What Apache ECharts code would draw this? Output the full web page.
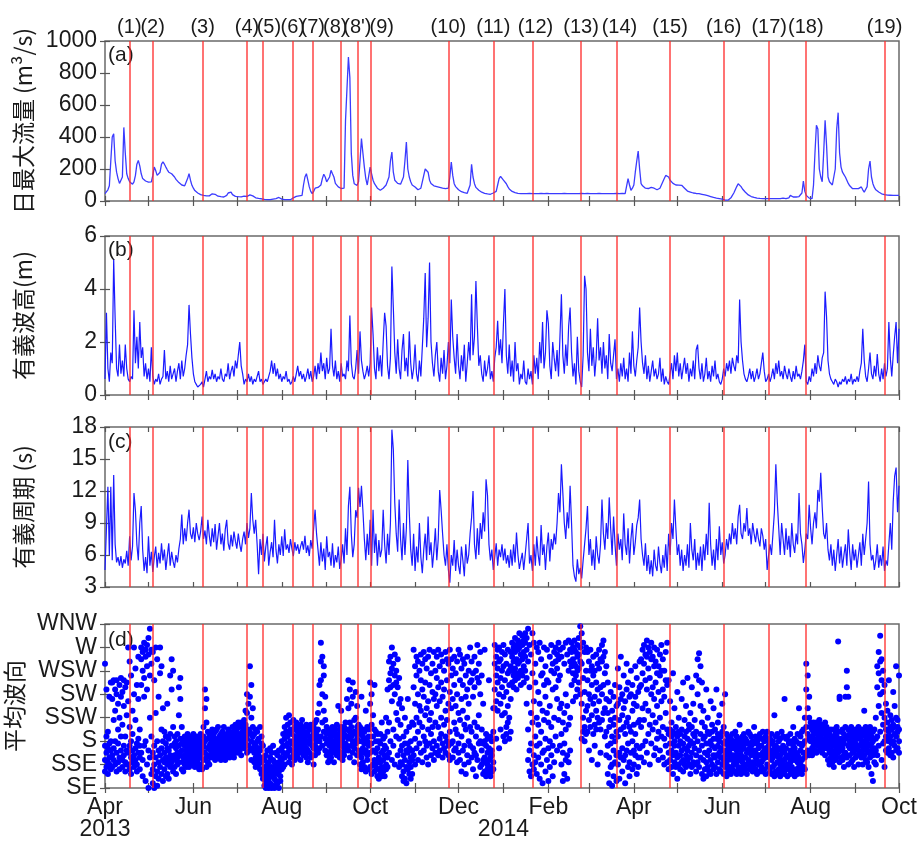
<!DOCTYPE html>
<html>
<head>
<meta charset="utf-8">
<script src="https://cdn.jsdelivr.net/npm/echarts@6/dist/echarts.min.js"></script>
<style>
html,body{margin:0;padding:0;background:#fff}
#main{width:924px;height:841px}
</style>
</head>
<body>
<div id="main"></div>
<script>
// 日数は 2013/4/1 を 0 とする
var monthTicks = [0,30,61,91,122,153,183,214,244,275,306,334,365,395,426,456,487,518,548];
var labelDays = [0,61,122,183,244,306,365,426,487,548];
var labelNames = ['Apr','Jun','Aug','Oct','Dec','Feb','Apr','Jun','Aug','Oct'];
var yearDays = [0,275];
var yearNames = ['2013','2014'];

// イベント (赤線)
var eventDays = [16.8,32.9,67.4,98,109,129.6,143.4,162.4,174.2,183.4,237,268,295,328.6,353,390,427,458.4,483.7,538];
var eventNames = ['(1)','(2)','(3)','(4)','(5)','(6)','(7)','(8)',"(8')",'(9)','(10)','(11)','(12)','(13)','(14)','(15)','(16)','(17)','(18)','(19)'];

// 波向 SE..WNW
var dirNames = ['SE','SSE','S','SSW','SW','WSW','W','WNW'];

// (a) 日最大流量 m3/s
var flow = [
46,50,70,95,250,400,420,250,180,140,
110,100,150,460,300,170,140,120,110,105,
120,160,230,254,220,170,140,130,125,120,
118,115,120,160,212,190,160,150,180,230,
244,230,212,195,180,190,170,160,150,135,
125,115,108,100,98,95,100,140,171,130,
98,80,65,55,50,46,40,35,35,33,
32,31,32,35,45,55,42,35,30,28,
27,25,25,26,35,50,62,55,40,32,
29,28,27,26,26,28,30,29,28,30,
38,42,32,25,20,18,16,15,14,12,
10,9,8,8,8,10,12,14,15,18,
22,15,12,10,9,8,8,8,8,10,
20,28,29,30,32,35,35,100,150,171,
130,88,60,46,60,80,92,85,77,100,
140,167,150,120,108,150,192,170,150,110,
100,88,80,78,77,80,504,700,900,771,
296,160,108,100,98,120,250,390,300,212,
140,100,88,212,170,130,108,95,80,70,
67,70,80,88,100,110,150,250,306,180,
130,120,110,108,105,110,150,250,369,200,
150,120,100,90,88,80,70,67,80,120,
160,200,212,180,130,110,98,95,92,90,
88,85,82,80,78,77,77,80,150,244,
160,108,90,78,70,62,58,56,52,50,
48,47,100,229,150,108,85,75,67,60,
55,50,48,46,44,42,42,42,50,60,
60,100,140,154,150,130,120,108,90,75,
65,60,56,52,50,48,47,46,46,46,
47,46,46,48,46,46,47,46,46,46,
46,47,46,46,46,48,46,46,47,46,
46,46,47,46,46,46,46,48,46,46,
47,46,46,46,47,46,46,46,46,48,
46,46,46,47,46,46,48,46,46,46,
46,47,46,46,46,46,47,46,46,46,
46,46,46,48,46,46,46,47,46,46,
55,140,100,67,80,100,180,250,312,200,
108,95,85,80,77,78,82,85,88,80,
75,70,67,80,100,120,140,160,167,150,
130,120,110,105,100,100,99,98,98,90,
80,70,62,58,56,52,50,48,47,46,
46,44,42,40,38,35,33,30,28,25,
22,20,18,16,15,15,12,8,5,4,
5,10,20,35,50,70,90,108,108,90,
75,67,55,45,38,32,28,25,22,20,
18,17,16,15,15,15,15,15,15,15,
15,15,15,15,15,15,15,15,18,15,
15,15,20,35,30,25,20,25,25,28,
30,50,125,60,35,25,18,15,15,100,
300,473,450,200,150,120,300,504,350,150,
120,108,100,98,200,450,552,300,212,180,
165,150,130,110,95,85,77,77,77,77,
77,80,88,70,55,46,90,200,250,150,
108,85,70,60,56,50,45,42,40,38,
37,36,36,35,35,35,35,35,35
];

// (b) 有義波高 m
var hs = [
0.6,3.1,1.0,0.5,1.6,1.2,5.1,2.9,1.0,0.7,
1.9,0.8,1.3,0.7,1.9,1.0,0.6,0.5,0.7,0.6,
3.2,1.2,2.2,1.0,2.75,1.4,1.8,0.7,1.2,0.6,
1.0,0.5,1.8,0.7,0.4,0.6,0.5,0.8,0.4,0.6,
0.7,1.7,0.6,0.9,0.5,1.1,0.6,0.8,1.0,0.5,
0.9,1.2,0.6,1.3,0.7,1.0,1.5,1.9,3.4,2.3,
1.4,0.8,0.5,0.4,0.3,0.3,0.4,0.5,0.3,0.6,
0.9,0.5,0.7,0.6,0.95,0.6,0.8,0.5,0.7,0.6,
1.0,0.6,0.5,0.8,0.7,1.2,0.6,0.9,1.1,0.7,
1.3,1.0,1.5,2.0,1.1,0.8,0.4,0.6,0.5,0.8,
0.5,0.7,0.4,0.6,0.5,0.7,0.9,0.5,0.6,0.4,
0.5,0.6,0.5,0.7,0.9,1.3,0.8,1.2,0.7,1.0,
0.6,0.8,0.5,0.7,0.6,0.9,0.5,0.6,0.4,0.5,
0.7,0.5,0.8,1.1,0.7,0.9,0.6,0.8,0.5,0.7,
1.0,0.6,0.9,0.5,0.7,1.1,0.6,1.2,0.8,1.6,
0.9,1.2,0.6,1.4,0.8,1.0,2.5,1.1,0.7,1.3,
0.6,0.9,0.5,1.2,0.7,0.8,0.6,1.3,0.9,3.0,
1.2,0.7,0.6,1.0,1.7,0.8,2.4,1.3,0.9,0.6,
0.8,1.1,0.7,1.2,3.3,2.3,1.0,0.6,1.8,0.9,
1.5,0.7,2.0,3.1,2.6,1.1,0.6,1.4,4.85,3.3,
1.6,0.8,2.1,1.0,0.6,1.7,2.3,0.9,1.4,0.7,
2.4,1.2,0.6,1.0,1.9,0.8,0.5,1.3,0.7,1.8,
2.9,4.6,1.8,2.9,5.0,2.0,1.2,0.7,1.5,2.0,
0.9,0.5,1.4,0.8,1.7,0.6,1.1,2.0,1.2,3.6,
2.2,1.4,0.8,2.3,1.1,0.6,1.5,0.9,1.9,0.5,
1.2,2.0,1.3,3.8,1.5,2.2,4.3,2.6,1.1,1.5,
0.8,0.5,1.3,0.7,1.0,1.5,0.6,0.9,0.5,1.4,
1.8,2.8,1.5,2.1,1.2,2.7,4.0,1.5,0.8,1.9,
0.7,1.3,0.5,2.0,0.9,1.2,0.4,0.8,0.6,1.3,
0.5,0.4,1.0,0.6,0.9,0.4,1.5,0.8,1.4,0.6,
2.0,1.2,2.75,1.0,1.6,3.2,2.7,1.1,0.6,2.0,
1.4,0.9,1.7,0.7,2.2,3.8,1.5,0.8,1.9,1.1,
2.6,3.3,1.6,0.7,1.2,0.4,2.2,0.9,0.5,0.3,
1.5,4.5,4.0,1.6,0.9,2.5,1.1,1.8,0.7,1.4,
2.9,1.3,1.8,0.8,2.0,1.0,1.5,0.6,2.3,1.2,
0.9,1.5,2.1,0.6,1.0,0.5,1.2,0.7,1.4,0.6,
1.0,0.5,1.6,0.8,2.4,1.1,0.7,1.3,1.8,3.3,
2.0,1.2,0.8,1.5,0.6,1.1,0.5,0.9,1.3,0.7,
1.0,0.6,0.8,1.4,0.5,1.0,0.4,0.7,0.5,0.4,
0.8,1.2,0.6,1.5,0.9,1.6,0.7,1.2,0.6,1.0,
1.4,0.8,1.2,0.5,1.0,0.7,1.3,0.6,1.7,1.9,
1.0,0.6,1.2,0.5,0.8,1.4,0.6,0.9,0.5,1.1,
0.7,1.3,0.6,0.8,0.5,0.4,0.6,1.0,0.7,1.2,
0.9,1.3,0.8,1.4,1.1,0.9,1.5,1.2,3.6,2.0,
1.3,0.8,0.6,0.5,0.7,1.0,0.6,0.9,0.5,0.7,
1.0,0.6,0.8,1.2,1.6,0.9,0.5,0.6,0.8,0.5,
0.7,1.0,0.6,1.2,0.8,1.3,0.7,0.9,0.6,1.1,
0.8,0.6,1.0,0.7,0.5,0.9,0.6,1.1,0.7,0.8,
0.6,0.9,1.3,1.9,0.5,0.4,0.7,0.5,1.0,0.7,
1.2,0.8,1.5,1.1,0.9,1.4,1.6,3.9,2.95,1.3,
0.8,0.6,0.5,0.4,0.6,0.5,0.3,0.5,0.4,0.6,
0.5,0.7,0.4,0.6,0.5,0.8,0.4,0.6,0.5,0.7,
0.5,0.9,1.2,2.5,1.3,0.7,0.5,1.0,1.6,0.8,
0.6,1.1,0.7,1.55,0.8,0.5,1.0,0.6,1.2,0.7,
1.0,2.75,1.4,0.7,1.5,2.2,2.75,1.2,2.5
];

// (c) 有義周期 s
var tp = [
4.6,8.5,12.4,6.0,12.4,5.5,13.5,7.0,5.3,5.8,
5.0,5.9,4.8,5.6,5.2,6.4,5.0,7.75,5.5,6.8,
11.8,10.2,7.0,5.5,9.0,10.6,6.5,4.5,5.8,4.3,
7.75,5.0,6.3,4.4,5.8,6.8,4.8,6.2,5.2,7.1,
5.5,6.5,4.6,5.9,7.1,5.0,6.3,5.4,4.8,6.0,
5.3,6.6,7.5,9.8,7.0,8.5,7.3,9.0,10.25,8.0,
7.5,8.6,7.2,9.0,8.0,7.4,8.2,9.6,7.5,8.3,
7.0,9.3,7.8,6.8,8.5,7.2,8.9,6.5,7.8,9.0,
7.0,8.0,6.4,8.4,9.3,7.1,6.5,7.9,6.8,8.2,
7.3,6.6,8.0,7.0,6.3,7.5,8.2,7.0,9.0,7.6,
8.5,11.8,9.3,8.0,9.3,7.0,4.2,7.5,6.0,8.0,
5.4,6.8,7.75,5.0,6.3,7.2,5.8,9.3,6.5,5.2,
7.0,6.0,7.75,5.9,8.4,6.5,7.0,6.2,7.5,6.6,
5.9,7.2,6.4,7.0,6.1,6.8,7.3,6.5,7.8,6.2,
6.9,5.9,7.4,6.6,8.5,10.25,8.0,6.5,5.0,7.2,
5.4,6.6,4.6,7.75,5.8,6.3,5.0,7.1,4.8,6.0,
5.3,6.8,4.7,5.6,7.0,5.2,8.5,6.0,10.6,12.4,
8.0,5.8,7.0,10.2,9.5,12.3,10.5,12.5,10.2,7.5,
5.5,8.0,6.0,9.3,5.0,10.25,6.2,8.0,5.0,7.4,
5.8,6.5,10.25,7.0,5.2,8.0,6.0,9.0,17.75,15.9,
10.9,8.0,6.3,11.2,7.5,5.5,9.0,6.0,8.5,14.9,
10.0,6.5,5.0,8.0,4.5,6.8,5.3,9.0,5.8,4.3,
6.5,8.0,5.5,9.6,6.0,7.2,4.8,6.4,8.5,5.5,
7.5,12.1,10.2,8.0,6.0,5.0,7.0,4.6,3.4,6.0,
5.0,7.4,4.5,6.5,5.0,4.2,6.8,5.5,4.0,7.0,
5.2,6.0,8.0,9.5,12.0,7.0,5.6,8.5,6.0,9.0,
7.5,10.0,8.2,13.1,11.6,7.0,5.5,6.5,4.6,5.8,
7.1,5.0,6.5,5.8,7.0,5.5,6.6,5.2,6.0,4.8,
6.5,5.0,7.0,5.3,8.1,6.0,4.7,5.5,6.2,4.6,
6.0,7.5,9.0,5.2,6.0,4.5,7.0,5.0,7.75,6.0,
5.0,8.8,6.0,7.0,4.6,6.8,8.1,5.4,7.5,6.5,
8.0,7.0,9.0,11.8,10.0,14.5,11.8,9.0,7.5,10.0,
8.5,12.5,9.0,5.0,4.0,3.5,5.6,4.2,4.8,3.8,
5.5,7.0,8.5,10.6,6.0,7.5,5.0,6.5,4.6,7.75,
6.0,5.2,7.0,11.2,8.0,6.5,9.0,7.5,11.4,8.5,
6.0,9.6,7.0,5.0,8.0,6.5,7.5,5.5,9.9,7.0,
6.0,8.5,5.2,7.5,9.0,6.0,7.2,8.8,9.5,11.2,
7.5,6.0,5.0,7.1,4.5,6.0,4.2,5.5,4.0,6.5,
5.0,4.5,6.8,5.2,4.3,6.0,4.8,7.0,4.5,8.0,
6.0,9.0,7.5,11.2,8.5,6.0,7.0,5.0,6.5,4.5,
6.0,5.0,7.0,4.8,9.0,6.5,5.5,7.5,4.6,6.2,
5.0,6.8,4.5,7.0,5.5,8.0,6.0,10.9,7.0,5.0,
6.5,4.6,7.5,5.5,8.7,6.0,7.2,5.2,6.0,7.5,
6.5,8.0,7.0,9.0,7.5,8.5,7.0,9.6,10.7,8.0,
7.5,9.0,8.2,10.4,7.8,8.5,7.0,9.0,8.0,7.2,
8.5,7.5,6.8,8.5,7.8,6.5,7.5,4.6,6.0,7.0,
6.0,8.0,10.0,14.5,11.0,8.5,6.0,9.0,7.5,6.0,
8.5,6.5,7.8,5.8,9.0,7.0,6.2,8.0,7.0,11.8,
8.0,7.0,5.25,6.5,8.0,7.5,10.7,8.5,7.0,9.0,
10.0,8.5,12.1,11.0,13.7,10.5,8.0,7.5,9.0,6.5,
5.5,7.0,5.0,6.5,4.5,6.0,7.5,5.2,6.8,4.8,
6.0,7.0,5.0,8.4,6.2,4.6,7.0,5.5,6.5,4.8,
6.0,7.2,5.0,8.0,6.0,7.5,9.0,12.9,7.0,5.5,
6.0,4.6,5.5,7.0,4.8,6.0,5.0,6.8,4.5,5.5,
5.0,7.0,9.0,6.5,11.0,13.4,14.2,10.0,12.5
];

// (d) 平均波向 (0=SE … 7=WNW)、1日4点
var dirs = [
1.2,1.8,5.3,0.7, 1.5,0.9,4.2,2.2, 1.7,1.1,2.4,0.6, 1.3,1.9,3.9,1.0, 0.8,1.6,2.0,4.5,
4.5,3.8,1.4,0.9, 4.6,2.9,1.7,1.2, 4.2,3.3,1.0,2.0, 4.6,4.0,1.5,0.7, 3.6,2.5,1.9,1.1,
4.4,3.0,1.3,0.8, 4.7,3.9,2.2,1.6, 4.1,2.7,1.2,0.9, 4.6,3.5,1.8,1.4, 4.3,2.2,1.1,0.7,
3.1,4.5,1.6,1.0, 6.0,3.7,1.5,1.0, 5.4,2.6,1.8,0.8, 4.8,1.3,2.0,0.6, 3.3,1.6,1.1,2.3,
6.0,4.0,1.4,0.9, 2.9,5.1,1.7,1.2, 4.4,1.9,1.0,0.7, 3.8,5.6,1.5,2.1, 2.5,1.3,0.8,1.8,
6.0,5.5,4.4,1.5, 5.8,5.0,1.2,0.5, 6.2,4.7,3.9,1.8, 5.6,5.9,2.0,0.3, 6.1,5.2,4.2,1.0,
6.4,5.7,1.6,0.0, 6.8,4.8,3.0,1.3, 5.9,5.3,2.2,0.6, 5.8,1.5,0.8,0.2, 4.6,1.8,1.0,0.0,
6.0,3.2,1.3,0.5, 5.5,2.0,0.7,0.1, 3.9,1.6,1.1,0.4, 6.0,4.9,1.4,0.9, 5.2,2.5,0.6,1.7,
3.4,1.2,0.3,2.0, 2.4,1.5,0.8,1.1, 1.9,1.3,0.5,2.2, 3.6,1.7,1.0,0.6, 2.1,1.2,0.4,1.6,
4.8,2.3,1.4,0.9, 5.5,4.2,1.8,1.1, 5.0,2.6,1.3,0.7, 1.9,1.4,0.9,2.2, 1.2,1.7,0.6,2.0,
1.5,2.3,1.0,1.3, 4.3,3.1,1.8,1.1, 4.7,3.8,2.1,1.4, 2.6,1.6,0.8,1.9, 1.3,2.0,1.1,0.7,
1.8,1.4,2.2,1.0, 1.6,1.2,2.0,0.9, 1.5,1.9,1.1,2.3, 1.3,2.1,1.7,0.9, 1.8,1.2,2.2,1.4,
1.0,1.6,2.0,1.3, 1.4,2.3,1.8,1.1, 1.7,1.2,2.1,0.9, 1.9,1.5,2.2,1.3, 1.2,1.8,1.0,2.0,
1.6,2.2,1.4,0.8, 1.9,1.3,2.3,1.0, 1.5,2.0,0.8,1.7, 2.6,1.2,1.8,2.2, 4.2,3.4,1.5,2.0,
3.8,2.8,1.3,0.9, 2.4,1.7,1.1,2.1, 1.8,1.4,2.3,1.0, 1.6,2.2,1.3,1.9, 2.0,1.4,2.5,1.7,
1.3,1.8,2.3,1.5, 2.1,1.6,1.2,2.4, 1.9,2.5,1.4,1.7, 1.5,2.0,1.8,2.6, 1.7,1.3,2.2,1.9,
2.3,1.5,1.9,1.2, 1.4,2.1,1.6,2.4, 1.8,2.6,1.3,2.0, 2.2,1.7,1.5,1.2, 1.6,2.3,2.0,1.4,
1.9,1.4,2.5,1.7, 2.4,1.8,1.3,2.1, 1.5,2.2,1.9,1.6, 2.0,2.6,1.4,1.8, 1.7,2.1,2.4,1.3,
2.3,1.6,1.9,2.7, 1.8,2.5,2.2,1.5, 2.1,1.7,2.8,1.9, 2.6,2.0,1.6,2.3, 1.9,2.8,2.2,1.4,
2.4,1.8,2.6,2.0, 2.2,2.9,1.7,2.5, 3.3,2.4,1.9,2.7, 4.0,3.2,2.1,1.5, 3.6,2.5,1.8,2.3,
5.2,3.9,2.4,1.6, 4.4,3.0,2.0,1.2, 3.4,2.6,1.7,2.2, 2.3,1.5,1.9,1.1, 1.8,2.5,1.3,0.9,
2.0,1.2,1.6,2.4, 1.4,2.1,1.0,1.7, 2.6,1.6,1.2,0.8, 1.9,1.1,2.2,0.6, 1.3,0.7,1.8,0.4,
1.2,0.5,0.9,0.1, 0.8,1.4,0.3,0.0, 1.0,0.2,1.6,0.6, 0.4,1.1,0.0,0.8, 1.3,0.7,0.2,1.7,
0.9,0.0,1.5,0.5, 0.6,1.2,0.1,1.8, 1.1,0.4,0.8,0.0, 0.3,1.5,0.7,1.0, 1.4,0.9,0.2,0.6,
0.7,1.6,0.0,1.1, 1.0,0.5,1.3,0.3, 1.7,0.8,2.0,1.2, 1.5,2.3,0.9,1.8, 2.1,1.3,2.6,1.0,
1.8,2.4,1.4,3.0, 2.2,1.5,2.7,1.9, 3.1,2.4,1.7,1.1, 2.8,2.0,1.3,2.5, 1.6,2.3,1.0,1.9,
2.5,1.4,2.0,2.9, 1.8,2.6,1.2,2.2, 2.1,1.6,2.8,1.4, 2.4,1.9,1.3,2.6, 1.5,2.2,1.8,2.0,
2.7,1.7,2.3,1.2, 2.0,2.5,1.6,2.9, 1.4,2.1,2.4,1.8, 2.6,1.9,1.5,2.2, 2.3,1.3,2.7,1.7,
1.6,2.4,2.0,1.1, 2.2,1.5,2.6,1.9, 1.9,2.7,1.3,2.1, 2.5,1.8,2.2,1.4, 1.7,2.3,1.0,2.6,
2.1,1.4,2.8,1.8, 2.4,2.0,1.6,2.9, 3.2,2.2,1.5,2.5, 4.4,3.6,2.0,1.7, 6.2,5.4,4.6,2.2,
5.6,4.0,2.8,1.8, 5.2,4.8,3.3,2.4, 3.9,2.9,2.1,1.6, 2.6,1.9,1.4,2.3, 2.0,1.5,2.4,1.1,
1.8,2.5,1.2,2.1, 2.2,1.6,2.0,1.3, 1.5,2.3,1.8,2.6, 2.4,1.7,1.1,2.0, 1.9,2.2,1.5,2.5,
2.1,1.4,2.7,1.8, 3.5,2.3,1.6,2.0, 2.5,1.8,2.2,1.3, 3.3,2.0,2.6,1.5, 1.9,2.4,1.2,2.1,
2.6,1.7,2.3,1.4, 2.2,2.8,1.6,1.9, 3.8,2.5,1.8,2.2, 4.6,3.4,2.1,1.6, 4.2,2.8,2.4,1.3,
3.6,2.2,1.8,2.6, 4.5,3.9,2.0,1.5, 2.9,2.4,1.7,1.1, 4.1,3.0,2.3,1.9, 3.5,2.6,1.4,2.1,
2.7,2.0,1.6,2.4, 2.3,1.5,2.6,1.0, 3.9,2.0,1.3,0.8, 2.5,1.7,2.2,1.1, 1.9,2.4,0.9,1.5,
3.3,2.1,1.6,0.7, 2.6,1.4,2.0,1.2, 2.2,1.8,0.8,2.5, 4.5,3.6,1.5,0.9, 4.0,2.7,1.9,0.6,
3.1,2.2,1.0,1.6, 4.4,2.5,1.2,0.7, 2.0,1.5,0.9,2.4, 1.7,2.3,1.1,0.5, 1.3,0.8,2.0,0.4,
1.9,1.1,0.6,2.3, 2.8,1.5,0.9,0.5, 1.2,2.1,0.7,1.6, 1.8,0.5,1.4,2.2, 3.0,1.0,1.7,0.8,
4.2,2.4,1.3,0.9, 5.4,4.6,2.8,1.5, 5.6,4.9,4.3,2.0, 6.0,5.1,3.7,1.2, 5.3,4.4,2.5,1.8,
5.7,4.8,4.0,1.0, 5.0,4.5,3.2,2.2, 5.5,4.3,2.9,1.4, 4.7,3.6,2.1,0.9, 3.8,2.7,1.6,1.1,
3.4,1.8,1.0,0.5, 2.2,1.4,0.7,0.3, 3.0,1.9,1.2,0.4, 1.6,0.9,2.4,0.2, 3.8,1.5,0.8,1.9,
2.6,1.1,0.6,1.7, 1.3,2.0,0.9,0.4, 2.8,1.6,1.2,0.6, 5.9,4.3,2.7,1.4, 5.2,3.6,2.1,1.0,
4.8,5.6,3.0,1.7, 5.4,4.0,2.4,1.2, 3.5,5.0,1.9,2.8, 5.7,4.6,3.3,1.5, 4.2,2.6,5.3,1.1,
5.8,3.9,2.2,1.6, 4.5,5.5,3.1,2.0, 5.1,3.4,1.8,1.3, 3.7,5.6,2.5,1.0, 5.9,4.4,2.9,1.9,
4.9,3.2,2.3,1.4, 5.3,4.1,1.7,2.6, 5.8,3.8,2.0,1.2, 4.0,5.0,2.8,1.5, 5.6,4.7,3.5,1.8,
4.3,5.9,2.6,1.4, 5.2,3.7,2.1,1.6, 5.7,4.5,3.0,2.3, 3.9,5.4,1.9,1.3, 5.0,4.2,2.7,1.7,
5.8,3.3,2.2,1.5, 4.6,5.5,2.9,2.0, 5.3,3.6,1.8,1.4, 4.1,5.9,2.4,1.2, 5.5,4.8,3.4,1.9,
3.8,5.1,2.0,1.3, 5.6,4.4,2.8,1.6, 4.9,3.5,1.7,2.5, 5.4,4.0,2.3,1.1, 5.9,3.2,1.9,1.5,
5.7,4.6,2.9,1.2, 5.1,3.8,2.2,0.7, 4.4,5.5,3.3,1.6, 5.3,2.7,1.8,1.0, 4.8,3.9,2.5,0.6,
5.6,4.2,3.0,1.4, 3.6,5.0,2.0,1.1, 6.0,4.5,2.6,1.8, 5.4,4.6,2.4,1.3, 4.9,3.9,1.7,0.8,
5.6,4.3,2.8,1.5, 5.0,2.2,1.4,0.5, 6.1,4.7,2.6,1.2, 4.5,5.3,3.1,1.9, 5.8,4.0,2.0,0.9,
4.8,2.5,1.6,1.0, 3.6,1.9,1.2,0.6, 5.9,2.0,1.3,0.7, 1.8,1.1,0.5,2.3, 1.5,0.8,2.1,1.0,
4.6,1.7,0.6,1.2, 2.2,1.3,0.9,0.5, 1.6,0.7,2.0,1.4, 3.4,2.4,1.1,0.8, 6.1,5.3,4.2,3.4,
5.6,4.8,3.7,2.1, 5.9,5.1,4.5,3.3, 6.0,5.4,4.0,1.7, 5.5,4.7,3.6,2.5, 5.8,5.0,4.3,3.1,
6.1,5.2,3.9,2.2, 5.7,4.6,3.2,2.0, 5.3,4.1,2.6,2.3, 5.9,4.9,3.5,2.8, 5.0,4.4,3.0,2.1,
5.8,5.2,3.8,2.4, 6.2,5.6,5.0,4.5, 6.0,5.4,4.8,4.3, 6.4,5.8,5.1,4.6, 6.1,5.5,4.9,4.2,
6.3,5.9,5.3,4.7, 6.6,6.0,5.4,4.9, 6.2,5.7,5.0,4.4, 6.5,6.1,5.5,4.8, 6.3,5.8,5.2,4.5,
6.6,6.2,5.6,5.0, 6.4,5.9,4.7,3.6, 6.8,5.4,2.5,1.2, 6.1,4.3,1.6,0.7, 5.7,3.2,1.9,0.5,
6.6,4.9,2.8,1.0, 6.2,3.7,1.4,0.8, 5.3,4.5,2.2,1.1, 6.0,3.0,1.8,0.6, 5.8,4.1,2.7,1.3,
6.2,3.6,1.9,0.4, 5.5,4.8,2.4,1.0, 4.9,3.3,1.5,0.2, 6.0,4.4,2.9,1.6, 5.2,3.9,2.1,0.7,
5.9,4.6,3.2,1.2, 4.5,2.8,1.7,0.3, 5.6,3.5,2.0,0.9, 6.1,5.0,2.6,1.4, 5.3,4.2,1.8,0.5,
5.8,4.9,3.0,1.1, 6.0,5.4,4.3,2.2, 5.7,5.1,3.8,1.6, 6.2,5.5,4.6,2.9, 5.9,4.8,3.4,1.8,
5.6,3.6,2.3,1.0, 6.0,2.8,1.5,0.3, 5.3,3.2,1.9,0.6, 6.2,4.0,2.5,1.2, 5.7,3.5,1.4,0.4,
6.3,5.0,2.7,1.1, 5.9,5.4,3.0,1.6, 6.2,5.8,5.2,4.4, 6.0,5.5,4.9,3.7, 6.3,5.9,5.3,4.6,
5.8,5.2,4.8,3.9, 6.1,5.6,5.0,4.2, 6.4,5.7,5.1,4.5, 6.9,6.0,5.4,4.0, 6.6,5.3,3.6,2.1,
6.2,4.7,3.0,2.4, 5.8,4.1,2.6,2.0, 6.0,5.0,3.3,2.3, 5.8,4.6,3.5,2.4, 5.4,4.0,2.9,1.6,
5.9,5.0,3.8,2.6, 5.2,4.4,3.1,1.2, 5.6,4.8,3.6,2.3, 5.0,3.9,2.7,1.8, 5.7,4.5,3.3,2.5,
5.3,4.2,3.0,1.0, 5.9,5.1,3.7,2.8, 5.5,4.3,2.5,1.5, 6.1,5.4,4.0,2.9, 6.3,5.6,4.4,3.2,
5.8,4.9,3.4,2.2, 5.2,3.8,2.4,1.4, 4.5,3.2,1.8,0.6, 3.7,2.6,1.3,0.2, 4.1,2.9,1.9,0.9,
3.3,2.2,1.0,0.1, 3.9,2.7,1.6,0.5, 4.4,3.0,2.0,1.1, 3.5,2.4,1.4,0.3, 5.1,3.6,2.2,1.0,
4.3,2.9,1.5,0.4, 5.6,3.8,2.5,1.3, 4.0,3.1,1.7,0.7, 4.8,3.4,2.6,1.2, 3.7,2.3,1.4,0.2,
5.3,4.2,2.8,1.6, 4.5,3.0,1.9,0.9, 3.9,2.6,1.1,0.5, 5.0,4.0,2.4,1.5, 4.4,3.3,2.0,0.8,
3.6,2.7,1.6,1.0, 5.2,3.9,2.3,1.4, 4.7,3.5,1.8,0.6, 4.1,2.8,1.3,0.9, 5.4,4.3,2.9,1.7,
5.5,4.4,2.6,1.3, 5.9,4.9,3.4,1.8, 6.1,5.3,2.9,1.1, 5.7,4.6,3.6,2.0, 6.3,5.6,4.2,1.5,
6.0,5.1,3.3,2.3, 5.8,4.7,2.7,1.0, 6.2,5.5,4.0,1.9, 5.6,4.3,3.1,2.5, 6.0,5.2,3.8,1.4,
5.4,4.5,2.8,1.7, 5.9,4.9,3.5,2.1, 5.2,4.1,2.4,1.2, 5.7,4.8,3.0,1.6, 6.1,5.0,3.7,2.2,
5.5,4.2,2.6,1.3, 5.0,3.9,2.1,1.0, 5.8,4.6,3.2,1.8, 6.2,4.4,2.5,1.1, 4.6,2.3,1.5,0.8,
3.7,1.9,1.2,2.5, 2.8,1.6,0.9,2.2, 4.9,2.4,1.4,0.6, 3.4,2.0,1.1,1.8, 2.6,1.5,0.9,2.3,
4.1,2.2,1.3,0.4, 3.0,1.8,1.0,2.4, 2.3,1.4,2.0,0.8, 3.8,2.5,1.6,1.1, 4.5,1.9,1.2,0.7,
2.9,1.7,2.2,1.0, 3.5,2.4,1.4,0.9, 4.7,2.1,1.6,1.2, 2.7,1.8,2.5,1.0, 3.2,2.0,1.3,0.6,
4.3,2.6,1.5,0.9, 3.6,1.9,1.1,2.3, 2.9,1.7,1.0,2.2, 4.8,2.4,1.4,0.7, 5.5,4.0,2.0,1.1,
5.75,4.6,1.6,0.9, 5.2,3.5,2.3,1.3, 4.5,2.8,1.8,0.6, 3.3,2.1,1.2,0.4, 2.6,1.5,2.2,0.8,
4.2,1.9,1.1,0.5, 3.0,2.4,1.4,0.9, 2.3,1.6,0.7,1.9, 3.7,2.0,1.2,0.6, 2.7,1.8,1.0,2.4,
3.4,1.4,0.8,2.1, 2.5,1.7,0.9,1.3, 4.2,2.1,1.4,0.6, 2.8,1.8,1.1,2.3, 3.1,1.5,0.8,2.0,
2.2,1.3,0.7,1.7, 3.6,2.4,1.6,1.0, 2.6,1.9,1.2,0.6, 4.0,2.0,1.4,0.9, 2.3,1.6,1.0,0.5,
1.8,1.2,0.7,2.2, 1.5,2.0,0.9,1.3, 2.1,1.4,0.6,1.7, 1.2,1.9,0.8,2.3, 1.7,1.0,2.0,1.4,
2.4,1.3,0.7,1.8, 1.6,2.2,1.1,0.6, 1.9,1.4,2.1,0.9, 2.7,1.7,1.2,0.8, 1.4,2.0,0.6,1.6,
2.2,1.1,1.8,0.9, 1.7,2.3,1.3,0.7, 1.3,1.9,0.8,2.1, 2.0,1.5,1.0,0.6, 1.6,2.4,1.2,1.9,
2.3,1.0,1.7,0.8, 1.8,1.4,2.2,0.9, 1.1,2.0,1.5,0.7, 2.6,1.6,1.0,1.9, 1.5,2.2,0.8,1.3,
1.9,1.2,2.0,0.6, 2.1,1.7,1.0,1.4, 1.4,2.3,0.7,1.8, 1.8,1.1,2.1,0.9, 2.4,1.5,1.2,0.7,
1.6,2.0,0.8,1.3, 2.2,1.3,1.7,0.6, 1.7,2.4,1.0,1.5, 2.0,1.4,0.9,1.8, 1.3,2.1,0.7,1.6,
1.9,1.2,0.6,2.3, 1.5,2.0,0.9,1.3, 3.1,1.7,1.0,0.5, 2.2,1.4,0.7,1.8, 1.6,2.3,1.1,0.6,
2.0,1.3,0.8,1.7, 1.4,2.1,0.5,1.0, 2.4,1.6,1.2,0.7, 1.8,1.0,2.2,0.9, 3.8,1.5,1.2,0.6,
2.1,1.7,0.8,1.3, 1.3,2.2,1.0,0.5, 1.9,1.4,2.0,0.8, 2.3,1.1,1.6,0.6, 1.5,2.0,0.9,1.2,
2.6,1.8,1.3,0.7, 1.7,1.2,2.1,0.5, 2.0,1.5,0.8,1.4, 1.4,2.3,1.1,0.6, 3.4,1.9,1.3,0.9,
2.2,1.6,0.7,1.0, 1.8,2.4,1.2,0.6, 2.5,1.5,0.9,1.9, 3.0,2.0,1.3,0.8, 5.3,4.2,2.6,1.5,
4.8,3.4,2.3,1.6, 3.9,3.0,2.1,1.4, 2.6,2.0,1.5,2.8, 2.2,1.7,2.5,1.4, 2.8,2.1,1.8,2.4,
2.0,2.6,1.6,2.3, 2.5,1.9,2.8,1.5, 2.3,2.7,1.8,2.1, 2.9,2.2,1.6,2.5, 2.4,1.8,2.7,2.0,
2.1,2.6,1.5,2.3, 2.7,2.0,2.4,1.7, 2.5,1.9,2.8,1.4, 2.2,2.6,1.7,2.0, 1.8,2.4,1.2,2.0,
2.3,1.5,2.0,1.0, 1.6,2.2,1.3,2.5, 2.1,1.8,1.1,1.5, 2.5,1.4,2.0,0.9, 1.9,2.3,1.6,1.2,
2.2,1.3,2.6,1.7, 6.25,2.0,1.5,2.4, 3.9,3.8,1.8,1.1, 2.4,1.6,2.1,1.3, 1.7,2.5,1.2,2.0,
2.3,1.4,1.9,0.9, 3.9,2.1,1.5,2.6, 5.0,4.3,2.2,1.3, 3.9,1.8,2.5,1.0, 2.0,1.4,2.3,1.7,
2.6,1.9,1.1,2.2, 1.5,2.4,1.8,1.2, 2.2,1.6,2.0,0.9, 1.9,2.5,1.3,2.3, 2.4,1.7,2.1,1.4,
1.6,2.2,1.0,2.6, 2.1,1.5,2.4,1.8, 2.5,1.9,1.3,2.2, 1.8,2.3,1.6,1.0, 3.3,2.0,1.4,2.5,
2.2,1.7,2.6,1.2, 1.6,2.4,1.9,1.1, 2.3,1.5,2.1,0.9, 2.6,1.8,1.3,2.4, 1.9,2.2,1.6,0.6,
2.4,1.4,2.0,0.3, 1.7,2.5,1.1,1.5, 3.0,2.1,1.6,1.0, 5.2,4.3,2.2,1.4, 5.8,4.9,3.5,1.8,
6.5,5.4,4.0,2.4, 5.5,4.6,3.2,1.2, 5.0,4.1,2.7,1.9, 4.4,3.0,2.0,0.9, 3.6,2.5,1.6,2.2,
2.8,2.1,1.5,3.3, 4.6,2.4,1.7,2.0, 3.1,2.6,1.4,2.2, 2.5,1.9,2.9,1.5, 4.1,2.7,2.0,1.3,
2.3,1.8,2.6,3.5, 5.2,3.0,2.2,1.6, 2.9,2.4,1.7,2.6, 4.8,2.5,2.0,1.5
];

var FONT = '"Liberation Sans", Arial, sans-serif';
var JFONT = '"Noto Sans CJK JP", sans-serif';
var TXT = '#1a1a1a';

var grids = [
  {left: 105, width: 794, top: 41, height: 160},
  {left: 105, width: 794, top: 236, height: 159},
  {left: 105, width: 794, top: 427, height: 160},
  {left: 105, width: 794, top: 624, height: 164}
];
var yConf = [
  {min: 0, max: 1000, interval: 200, name: '日最大流量 (m³/s)'},
  {min: 0, max: 6, interval: 2, name: '有義波高(m)'},
  {min: 3, max: 18, interval: 3, name: '有義周期 (s)'},
  {min: 0, max: 7, interval: 1, name: '平均波向'}
];
var panelTags = ['(a)', '(b)', '(c)', '(d)'];
var tagShift = [4, 4, 5, 6];
// ラベルの横ずらし (px)
var evShift = {4: 6, 7: -5, 9: 11, 12: 3, 14: 3};

function daily(arr) {
  return arr.map(function (v, i) { return [i, v]; });
}
function dirPoints(arr) {
  return arr.map(function (v, i) { return [Math.floor(i / 4), v]; });
}

var xAxes = [], yAxes = [], series = [], graphics = [];
grids.forEach(function (g, k) {
  g.show = true;
  g.borderColor = '#6a6a6a';
  g.borderWidth = 1.5;
  g.backgroundColor = 'transparent';
  g.outerBoundsMode = 'none';
  g.containLabel = false;
  ['bottom', 'top'].forEach(function (pos) {
    xAxes.push({
      type: 'value', gridIndex: k, min: 0, max: 548, position: pos,
      axisLine: {show: false}, splitLine: {show: false},
      axisTick: {show: true, inside: true, length: 5, customValues: monthTicks,
        lineStyle: {color: '#555', width: 1.2}},
      axisLabel: {show: k === 3 && pos === 'bottom', customValues: labelDays,
        formatter: function (v) { var j = labelDays.indexOf(v); return j < 0 ? '' : labelNames[j]; },
        fontFamily: FONT, fontSize: 23, color: TXT, margin: 8}
    });
  });
  var yc = yConf[k];
  ['left', 'right'].forEach(function (pos) {
    var ax = {
      type: 'value', gridIndex: k, min: yc.min, max: yc.max, interval: yc.interval, position: pos,
      axisLine: {show: false}, splitLine: {show: false},
      axisTick: {show: true, inside: true, length: 5, lineStyle: {color: '#555', width: 1.2}},
      axisLabel: {show: pos === 'left', fontFamily: FONT, fontSize: 23, color: TXT, margin: 8,
        formatter: k === 3 ? function (v) { return dirNames[v] || ''; } : function (v) { return String(v); }}
    };
    if (pos === 'left') {
      ax.name = yc.name;
      ax.nameLocation = 'middle';
      ax.nameRotate = 90;
      ax.nameGap = 70;
      ax.nameTextStyle = {fontFamily: JFONT, fontSize: 23, color: TXT};
    }
    yAxes.push(ax);
  });
  graphics.push({
    type: 'text', left: g.left + 3, top: g.top + tagShift[k],
    style: {text: panelTags[k], font: '21px ' + FONT, fill: TXT}
  });
});
// 年ラベル
xAxes.push({
  type: 'value', gridIndex: 3, min: 0, max: 548, position: 'bottom',
  axisLine: {show: false}, axisTick: {show: false}, splitLine: {show: false},
  axisLabel: {customValues: yearDays,
    formatter: function (v) { var j = yearDays.indexOf(v); return j < 0 ? '' : yearNames[j]; },
    fontFamily: FONT, fontSize: 23, color: TXT, margin: 30}
});

var lineStyles = [
  {color: '#3b3bff', width: 1.3},
  {color: '#1a1aff', width: 1.2},
  {color: '#1a1aff', width: 1.2}
];
series.push({type: 'line', xAxisIndex: 0, yAxisIndex: 0, data: daily(flow),
  showSymbol: false, lineStyle: lineStyles[0], animation: false});
series.push({type: 'line', xAxisIndex: 2, yAxisIndex: 2, data: daily(hs),
  showSymbol: false, lineStyle: lineStyles[1], animation: false});
series.push({type: 'line', xAxisIndex: 4, yAxisIndex: 4, data: daily(tp),
  showSymbol: false, lineStyle: lineStyles[2], animation: false});
series.push({type: 'scatter', xAxisIndex: 6, yAxisIndex: 6, data: dirPoints(dirs),
  symbolSize: 6, itemStyle: {color: '#0000ff', opacity: 1}, animation: false});

// 赤線
for (var k = 0; k < 4; k++) {
  series.push({
    type: 'line', xAxisIndex: 2 * k, yAxisIndex: 2 * k, data: [], z: 5, silent: true,
    animation: false,
    markLine: {
      symbol: 'none', silent: true, animation: false,
      lineStyle: {color: 'rgba(255,40,40,0.65)', width: 2, type: 'solid'},
      label: {show: k === 0, position: 'end', distance: 4, fontFamily: FONT, fontSize: 20, color: TXT},
      data: eventDays.map(function (d, i) {
        var s = evShift[i] || 0;
        return {
          xAxis: d,
          label: {formatter: eventNames[i],
            padding: s >= 0 ? [0, 0, 0, 2 * s] : [0, -2 * s, 0, 0]}
        };
      })
    }
  });
}

var chart = echarts.init(document.getElementById('main'));
chart.setOption({
  backgroundColor: '#fff',
  animation: false,
  grid: grids,
  xAxis: xAxes,
  yAxis: yAxes,
  series: series,
  graphic: graphics
});
</script>
</body>
</html>
